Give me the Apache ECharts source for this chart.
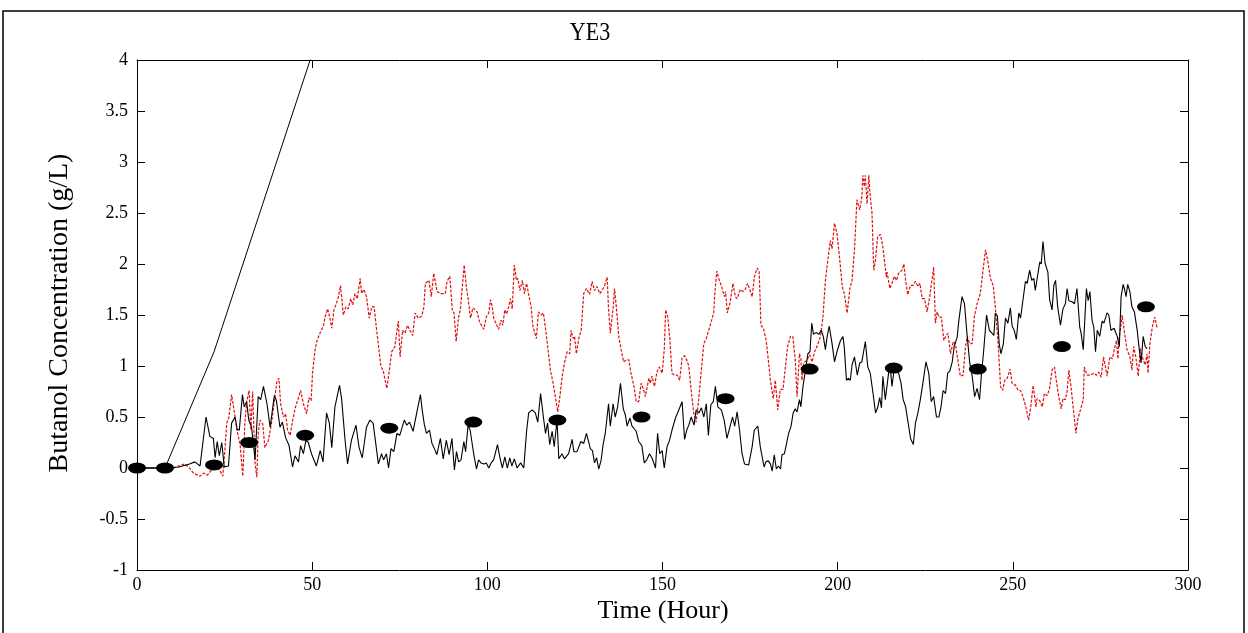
<!DOCTYPE html>
<html>
<head>
<meta charset="utf-8">
<script src="https://cdn.jsdelivr.net/npm/echarts@6/dist/echarts.min.js"></script>
<style>html,body{margin:0;padding:0;background:#fff}#c{width:1248px;height:633px}</style>
</head>
<body>
<div id="c"></div>
<script>
const titleText = 'YE3';
const xName = 'Time (Hour)';
const yName = 'Butanol Concentration (g/L)';
const xTicks = [0, 300, 50];
const yTicks = [-1, 4, 0.5];

// cumulative straight line
const cumulative = [[0,0],[8,0],[22,1.14],[50,4.06],[60,5.1]];

// ellipse markers
const markers = [[0,0],[8,0],[22,0.03],[32,0.25],[48,0.32],[72,0.39],[96,0.45],[120,0.47],[144,0.50],[168,0.68],[192,0.97],[216,0.98],[240,0.97],[264,1.19],[288,1.58]];

// black noisy series
const blackLine = [[0,0],[8,0],[12,0.01],[15,0.04],[16.5,0.06],[18,0.02],[19.7,0.50],[20.8,0.31],[21.8,0.29],[22.3,0.10],[22.9,0.26],[23.5,0.12],[24.2,0.25],[24.9,0.01],[26.1,0.02],[27,0.44],[28,0.50],[28.6,0.38],[29.2,0.37],[30.1,0.72],[30.6,0.60],[31.3,0.65],[31.9,0.47],[32.7,0.40],[33.7,0.08],[34.6,0.70],[35.3,0.67],[36.1,0.80],[37.1,0.63],[38.0,0.40],[39.2,0.71],[39.8,0.66],[40.8,0.40],[41.5,0.45],[42.4,0.30],[43.4,0.22],[44.4,0.01],[45.1,0.12],[46.1,0.06],[46.7,0.22],[47.5,0.14],[48.2,0.27],[48.9,0.25],[49.8,0.14],[51.2,0.02],[52.3,0.17],[53.1,0.06],[54.1,0.54],[54.9,0.44],[55.6,0.20],[56.5,0.60],[57.8,0.81],[58.4,0.68],[59.4,0.27],[60.1,0.04],[61.2,0.27],[62.5,0.42],[63.4,0.20],[64.3,0.10],[65.5,0.40],[66.5,0.47],[67.4,0.44],[68.9,0.04],[69.8,0.14],[70.4,0.08],[71.2,0.14],[71.8,0.0],[72.5,0.19],[73.3,0.16],[74.2,0.34],[75.0,0.32],[76.3,0.47],[77.0,0.42],[77.8,0.45],[78.8,0.36],[79.9,0.55],[80.9,0.72],[81.4,0.57],[82.0,0.43],[82.6,0.34],[83.5,0.37],[84.2,0.24],[84.9,0.19],[85.6,0.13],[86.6,0.29],[87.4,0.09],[88.3,0.27],[89.1,0.13],[89.9,0.29],[90.6,-0.02],[91.2,0.16],[91.8,0.06],[92.5,0.08],[93.3,0.26],[93.8,0.16],[94.5,0.42],[95.1,0.37],[96.1,0.14],[96.9,-0.01],[97.5,0.08],[98.2,0.05],[99.0,0.04],[99.7,0.05],[100.4,0.0],[101.1,0.05],[101.8,0.08],[102.9,0.23],[103.6,0.10],[104.3,0.0],[105.0,0.11],[105.7,0.0],[106.4,0.10],[107.0,0.02],[107.7,0.09],[108.5,0.0],[109.5,0.05],[110.4,0.0],[111.2,0.36],[111.8,0.54],[112.8,0.57],[113.7,0.54],[114.4,0.45],[115.2,0.73],[116.0,0.50],[116.6,0.34],[117.2,0.44],[117.8,0.23],[118.5,0.36],[119.1,0.21],[119.9,0.47],[120.4,0.09],[121.3,0.14],[122.0,0.09],[123.2,0.14],[124.2,0.28],[124.7,0.16],[125.6,0.16],[126.7,0.26],[127.5,0.24],[128.3,0.34],[129.4,0.19],[130.0,0.17],[130.6,0.05],[131.2,0.10],[131.8,-0.01],[132.5,0.08],[133.0,0.22],[133.7,0.35],[134.6,0.63],[135.1,0.41],[135.9,0.63],[136.5,0.50],[137.2,0.60],[138.0,0.83],[138.8,0.58],[139.4,0.52],[139.9,0.41],[140.7,0.49],[141.3,0.41],[141.8,0.39],[142.5,0.36],[143.2,0.26],[144.1,0.22],[144.8,0.05],[145.5,0.08],[146.3,0.14],[147.1,0.09],[148.0,0.0],[148.6,0.34],[149.2,0.14],[149.9,0.17],[150.5,0.0],[151.3,0.21],[152.0,0.27],[152.7,0.37],[153.7,0.49],[154.3,0.54],[154.9,0.59],[155.6,0.65],[156.3,0.28],[156.9,0.37],[157.5,0.42],[158.2,0.50],[159.0,0.42],[159.6,0.57],[160.4,0.54],[161.1,0.59],[161.8,0.50],[162.5,0.63],[163.1,0.32],[163.8,0.62],[164.5,0.65],[165.1,0.80],[165.8,0.60],[166.8,0.57],[167.6,0.47],[168.4,0.29],[169.3,0.41],[170.0,0.50],[170.6,0.41],[171.3,0.55],[172.0,0.37],[172.7,0.14],[173.4,0.04],[174.6,0.03],[175.6,0.21],[176.2,0.37],[177.2,0.41],[177.9,0.21],[179.0,0.01],[179.5,0.06],[180.2,0.07],[180.8,0.04],[181.3,-0.03],[181.9,0.13],[182.5,-0.01],[183.1,0.02],[183.7,-0.01],[184.1,0.13],[184.8,0.14],[185.4,0.24],[186.0,0.34],[186.7,0.41],[187.3,0.54],[187.9,0.58],[188.4,0.55],[189.1,0.67],[189.5,0.60],[190.1,0.80],[190.8,0.96],[191.5,1.12],[192.1,1.14],[192.6,1.42],[193.1,1.31],[193.9,1.33],[194.6,1.31],[195.3,1.35],[195.9,1.29],[196.5,1.16],[197.0,1.29],[197.6,1.39],[198.4,1.22],[199.1,1.04],[199.8,1.14],[200.8,1.25],[201.5,1.29],[201.9,1.18],[202.5,0.86],[203.1,0.88],[203.6,0.86],[204.1,1.01],[204.8,1.09],[205.2,1.08],[205.6,0.91],[206.3,1.03],[206.9,1.04],[207.9,1.24],[208.6,0.99],[209.3,0.93],[210.1,0.73],[210.8,0.54],[211.4,0.59],[212.0,0.69],[212.5,0.59],[212.9,0.90],[213.6,0.67],[214.1,0.67],[214.9,1.03],[215.5,0.80],[216.2,0.99],[217.4,0.93],[218.1,0.83],[218.7,0.67],[219.4,0.60],[220.0,0.47],[220.8,0.29],[221.6,0.23],[222.2,0.44],[222.9,0.54],[223.6,0.67],[224.4,0.85],[225.2,1.04],[226.0,0.93],[226.7,0.65],[227.4,0.70],[228.2,0.50],[228.9,0.50],[229.5,0.60],[230.1,0.76],[230.8,0.73],[231.4,0.93],[232.0,0.95],[232.7,1.04],[233.3,1.20],[234.1,1.28],[234.6,1.45],[235.5,1.68],[236.2,1.61],[236.9,1.32],[237.7,1.03],[238.4,0.90],[239.1,0.70],[239.8,0.78],[240.5,0.67],[241.0,0.90],[241.7,1.16],[242.5,1.50],[243.3,1.35],[244.1,1.32],[244.6,1.30],[245.0,1.52],[245.6,1.49],[246.1,1.22],[246.6,1.12],[247.3,1.22],[247.9,1.47],[248.6,1.42],[249.3,1.57],[249.8,1.39],[250.4,1.35],[251.0,1.26],[251.7,1.52],[252.2,1.47],[252.9,1.65],[253.6,1.83],[254.1,1.81],[254.8,1.94],[255.4,1.84],[256.0,1.86],[256.4,1.74],[256.9,1.73],[257.7,2.02],[258.1,2.00],[258.6,2.22],[259.2,2.01],[260.0,1.92],[260.5,1.65],[261.2,1.55],[261.7,1.79],[262.2,1.84],[262.8,1.58],[263.6,1.40],[264.3,1.56],[265.0,1.61],[265.5,1.76],[266.0,1.64],[266.9,1.63],[267.6,1.61],[268.3,1.76],[269.1,1.38],[269.5,1.32],[270.1,1.16],[271.0,1.76],[271.5,1.64],[272.0,1.73],[272.6,1.45],[273.1,1.38],[273.6,1.14],[274.1,1.35],[274.8,1.29],[275.5,1.44],[276.0,1.42],[276.9,1.52],[277.4,1.50],[278.0,1.35],[278.9,1.37],[279.8,1.29],[280.4,1.19],[280.9,1.68],[281.5,1.80],[281.9,1.75],[282.3,1.68],[282.8,1.80],[283.4,1.73],[284.0,1.58],[284.7,1.53],[285.5,1.35],[286.0,1.19],[286.6,1.03],[287.2,1.29],[287.8,1.19],[288.3,1.17]];

// red dotted series
const redLine = [[0,0],[10.5,0.0],[11.8,0.02],[13.7,0.04],[15,0.0],[16.1,-0.05],[18.0,-0.08],[19.0,-0.05],[20.1,-0.07],[21.3,-0.02],[22.7,0.0],[23.6,-0.02],[24.5,-0.08],[25.1,0.18],[25.6,0.44],[26.2,0.49],[27.0,0.72],[27.7,0.57],[28.5,0.37],[29.4,0.24],[30.2,-0.08],[30.8,0.44],[31.3,0.65],[32.0,0.76],[32.5,0.37],[33.0,0.75],[33.7,0.04],[34.2,-0.09],[34.6,0.34],[35.1,0.47],[35.9,0.43],[36.5,0.20],[37.5,0.27],[38.4,0.44],[39.1,0.63],[39.9,0.84],[40.5,0.88],[41.0,0.63],[41.8,0.50],[42.4,0.53],[43.0,0.37],[43.7,0.32],[44.4,0.46],[45.1,0.58],[46.1,0.69],[46.7,0.76],[47.5,0.63],[48.4,0.53],[49.1,0.69],[49.7,0.66],[50.1,0.93],[50.8,1.15],[51.3,1.24],[52.2,1.32],[53.2,1.39],[53.7,1.48],[54.4,1.56],[55.0,1.48],[55.6,1.37],[56.2,1.55],[56.9,1.61],[57.5,1.68],[58.1,1.79],[58.9,1.50],[59.6,1.58],[60.3,1.56],[61.0,1.66],[61.6,1.60],[62.2,1.71],[62.9,1.66],[63.7,1.86],[64.1,1.71],[64.8,1.75],[65.5,1.68],[66.3,1.47],[67.0,1.58],[67.7,1.58],[68.4,1.35],[69.6,1.0],[70.3,0.95],[71.3,0.78],[72.0,0.95],[72.7,1.14],[73.6,1.19],[74.1,1.32],[74.6,1.44],[75.1,1.09],[75.8,1.35],[76.5,1.32],[77.2,1.40],[77.9,1.35],[78.7,1.30],[79.4,1.52],[80.3,1.47],[81.3,1.49],[81.9,1.58],[82.3,1.81],[83.3,1.84],[84.0,1.68],[84.7,1.91],[85.4,1.78],[85.6,1.73],[86.6,1.71],[88.0,1.71],[88.5,1.83],[89.3,1.88],[90.0,1.55],[90.5,1.52],[91.1,1.24],[91.8,1.48],[92.3,1.55],[92.8,1.75],[93.4,1.99],[94.0,1.78],[94.7,1.61],[95.2,1.47],[95.9,1.57],[96.5,1.55],[97.1,1.53],[97.8,1.43],[99.0,1.36],[99.7,1.48],[100.4,1.52],[100.9,1.65],[101.4,1.58],[101.8,1.47],[102.3,1.47],[103.2,1.36],[103.9,1.45],[104.4,1.40],[105.0,1.55],[105.5,1.51],[106.1,1.58],[106.6,1.66],[107.1,1.56],[107.7,1.99],[108.3,1.84],[108.7,1.86],[109.3,1.74],[110.0,1.84],[110.6,1.71],[111.2,1.81],[111.8,1.70],[112.5,1.58],[113.0,1.39],[114.0,1.27],[114.3,1.40],[114.6,1.53],[115.3,1.50],[116.0,1.52],[116.6,1.37],[117.3,1.17],[118.0,0.96],[118.8,0.83],[119.4,0.70],[120.1,0.55],[120.7,0.70],[121.3,0.88],[122.0,1.03],[122.8,1.14],[123.5,1.12],[123.9,1.35],[124.5,1.27],[124.9,1.29],[125.4,1.12],[126.1,1.27],[126.8,1.35],[127.5,1.71],[128.3,1.76],[129.2,1.70],[129.9,1.83],[130.6,1.74],[131.3,1.78],[132.1,1.71],[132.7,1.74],[133.4,1.78],[134.2,1.87],[134.6,1.56],[135.1,1.32],[135.6,1.48],[135.9,1.56],[136.3,1.76],[136.9,1.55],[137.5,1.29],[138.2,1.16],[138.9,1.04],[139.6,1.06],[140.4,1.06],[141.0,0.93],[141.8,0.81],[142.5,0.65],[143.2,0.65],[143.9,0.83],[144.5,0.78],[145.1,0.70],[146.1,0.88],[146.5,0.83],[147.0,0.90],[147.7,0.80],[148.4,0.94],[149.1,0.99],[149.9,0.93],[150.5,1.16],[150.9,1.55],[151.5,1.48],[152.1,1.26],[152.7,0.93],[153.4,0.91],[154.2,0.91],[154.9,0.86],[155.6,1.08],[156.3,1.10],[156.9,1.06],[157.5,1.0],[158.2,0.76],[158.9,0.54],[159.6,0.45],[160.3,0.66],[161.0,0.93],[161.8,1.22],[162.5,1.27],[163.1,1.34],[163.8,1.42],[164.6,1.52],[165.0,1.74],[165.5,1.93],[166.2,1.84],[166.9,1.78],[167.6,1.68],[168.0,1.73],[168.5,1.52],[169.3,1.62],[170.1,1.81],[170.8,1.68],[171.3,1.66],[172.2,1.75],[172.9,1.73],[173.6,1.75],[174.3,1.81],[174.9,1.75],[175.6,1.68],[176.2,1.87],[177.0,1.96],[177.6,1.93],[178.1,1.40],[178.8,1.37],[179.6,1.25],[180.3,1.03],[180.8,0.86],[181.6,0.68],[182.2,0.86],[182.9,0.57],[183.6,0.77],[184.4,0.77],[185.1,1.0],[185.7,1.19],[186.5,1.29],[187.2,1.29],[187.9,1.06],[188.4,0.70],[189.1,1.12],[189.5,1.07],[189.8,0.86],[190.3,1.03],[191.3,1.06],[192.0,1.11],[192.7,1.04],[193.4,1.14],[194.1,1.19],[195.1,1.29],[195.8,1.48],[196.5,1.84],[197.2,2.04],[197.9,2.23],[198.4,2.15],[199.1,2.40],[199.8,2.30],[200.6,2.04],[201.3,1.78],[201.9,1.71],[202.7,1.52],[203.5,1.76],[204.1,1.84],[204.8,2.14],[205.5,2.63],[206.3,2.53],[206.9,2.66],[207.2,2.87],[207.6,2.76],[207.9,2.87],[208.4,2.59],[208.9,2.87],[209.3,2.66],[209.8,2.50],[210.3,1.94],[210.8,2.04],[211.4,2.27],[212.2,2.29],[212.9,2.17],[213.9,1.87],[214.1,1.92],[214.9,1.76],[215.5,1.81],[216.2,1.88],[216.8,1.84],[217.4,1.91],[218.4,1.94],[218.9,2.00],[219.4,1.84],[220.0,1.70],[220.8,1.79],[221.5,1.79],[222.2,1.83],[222.9,1.78],[223.5,1.81],[224.1,1.66],[224.8,1.66],[225.5,1.53],[226.2,1.66],[226.9,1.84],[227.4,1.97],[227.9,1.42],[228.4,1.53],[228.9,1.48],[229.6,1.48],[230.3,1.25],[231.0,1.30],[231.5,1.32],[232.2,1.12],[233.0,1.24],[233.6,1.22],[234.3,1.06],[235.0,0.90],[235.8,0.91],[236.5,1.19],[237.0,1.29],[237.7,1.22],[238.4,1.22],[239.0,1.48],[239.8,1.61],[240.7,1.71],[241.5,1.94],[242.2,2.14],[242.8,2.04],[243.6,1.86],[244.4,1.79],[245.0,1.58],[245.8,1.22],[246.5,0.80],[247.1,0.76],[247.7,0.86],[248.4,0.88],[249.2,0.97],[249.8,0.83],[250.8,0.81],[251.5,0.76],[252.2,0.76],[252.9,0.70],[253.7,0.60],[254.5,0.47],[255.0,0.57],[255.8,0.81],[256.6,0.60],[256.9,0.68],[257.7,0.66],[258.4,0.60],[259.0,0.73],[259.8,0.71],[260.5,0.78],[261.2,0.96],[261.9,0.99],[262.4,0.86],[263.1,0.70],[263.8,0.58],[264.3,0.68],[265.0,0.67],[265.5,0.75],[266.0,0.96],[266.5,0.83],[267.2,0.60],[268.0,0.34],[268.5,0.47],[269.3,0.57],[270.1,0.67],[270.4,0.99],[271.2,0.91],[272.2,0.91],[273.1,0.93],[273.9,0.91],[274.5,0.94],[275.2,0.89],[275.9,1.09],[276.4,1.09],[276.9,0.90],[277.7,1.09],[278.4,1.07],[279.0,1.17],[279.6,1.25],[280.0,1.07],[280.3,1.27],[280.8,1.38],[281.2,1.50],[281.9,1.32],[282.6,1.16],[283.4,1.09],[284.0,0.96],[284.5,1.19],[285.1,1.09],[285.8,0.90],[286.4,1.17],[287.2,1.06],[287.8,1.01],[288.3,1.12],[288.6,0.93],[289.1,1.21],[289.8,1.38],[290.5,1.48],[291.2,1.37]];

const FONT = 'Liberation Serif';
const chart = echarts.init(document.getElementById('c'), null, {renderer: 'canvas'});

function axisCommon() {
  return {
    axisLine: {show: true, onZero: false, lineStyle: {color: '#000', width: 1}},
    axisTick: {show: true, inside: true, length: 8, lineStyle: {color: '#000', width: 1}},
    splitLine: {show: false}
  };
}

chart.setOption({
  animation: false,
  backgroundColor: '#fff',
  grid: {left: 137, right: 60, top: 60, bottom: 63, containLabel: false},
  xAxis: [
    Object.assign({type: 'value', position: 'bottom', min: xTicks[0], max: xTicks[1], interval: xTicks[2],
      axisLabel: {fontFamily: FONT, fontSize: 18, color: '#000', margin: 6}}, axisCommon()),
    Object.assign({type: 'value', position: 'top', min: xTicks[0], max: xTicks[1], interval: xTicks[2],
      axisLabel: {show: false}}, axisCommon())
  ],
  yAxis: [
    Object.assign({type: 'value', position: 'left', min: yTicks[0], max: yTicks[1], interval: yTicks[2],
      axisLabel: {fontFamily: FONT, fontSize: 18, color: '#000', margin: 9}}, axisCommon()),
    Object.assign({type: 'value', position: 'right', min: yTicks[0], max: yTicks[1], interval: yTicks[2],
      axisLabel: {show: false}}, axisCommon())
  ],
  series: [
    {type: 'line', data: redLine, showSymbol: false, symbol: 'none', z: 2,
      lineStyle: {color: '#dd1111', width: 1.2, type: [3, 1.5]}},
    {type: 'line', data: blackLine, showSymbol: false, symbol: 'none', z: 3,
      lineStyle: {color: '#000', width: 1.1}},
    {type: 'line', data: cumulative, showSymbol: false, symbol: 'none', z: 3,
      lineStyle: {color: '#000', width: 1}},
    {type: 'scatter', data: markers, symbol: 'circle', symbolSize: [18, 11], z: 5,
      itemStyle: {color: '#000', opacity: 1}}
  ],
  graphic: [
    {type: 'rect', shape: {x: 3, y: 11, width: 1241, height: 640}, style: {fill: null, stroke: '#000', lineWidth: 1.5}, silent: true},
    {type: 'text', x: 590, y: 33, style: {text: titleText, font: '22px "Liberation Serif"', fill: '#000', textAlign: 'center', textVerticalAlign: 'middle'}, scaleY: 1.15},
    {type: 'text', x: 663, y: 611, style: {text: xName, font: '26px "Liberation Serif"', fill: '#000', textAlign: 'center', textVerticalAlign: 'middle'}},
    {type: 'text', x: 60, y: 313, rotation: Math.PI / 2, style: {text: yName, font: '28px "Liberation Serif"', fill: '#000', textAlign: 'center', textVerticalAlign: 'middle'}}
  ]
});
</script>
</body>
</html>
